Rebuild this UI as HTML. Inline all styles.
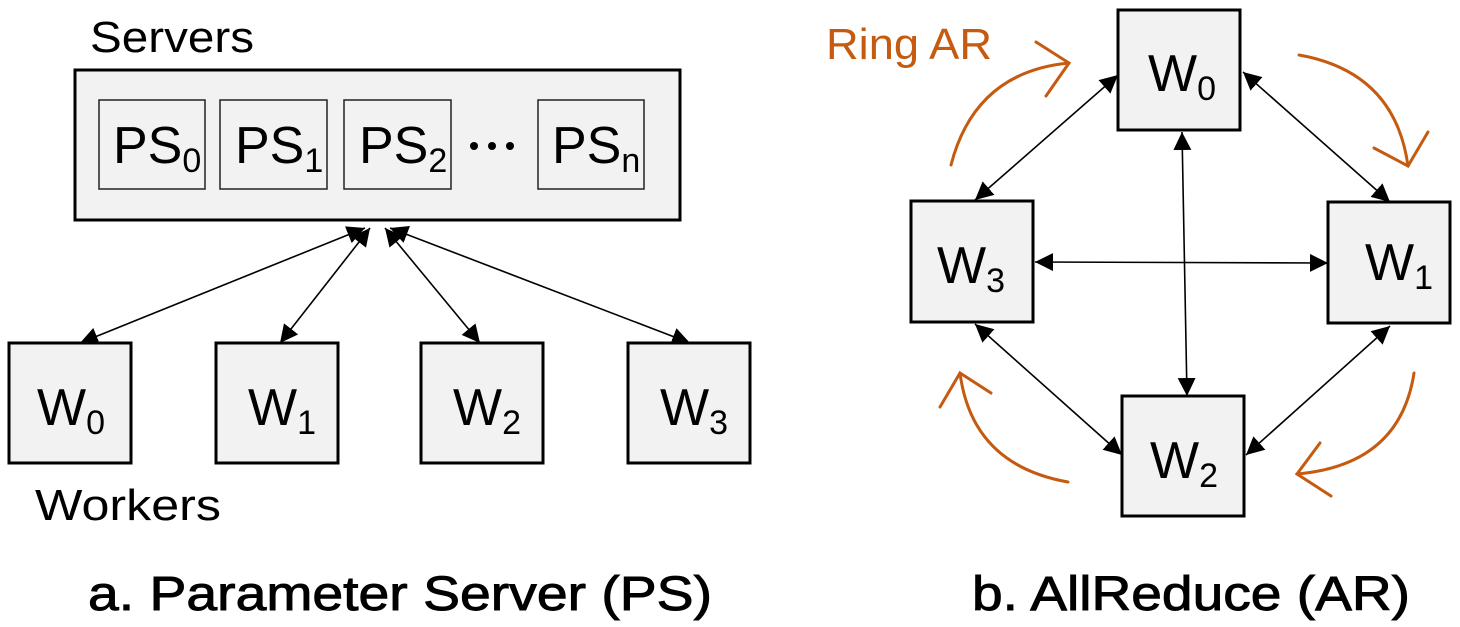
<!DOCTYPE html>
<html><head><meta charset="utf-8"><style>
html,body{margin:0;padding:0;background:#fff;}
svg{display:block;}
text{font-family:"Liberation Sans",sans-serif;fill:#000;}
</style></head><body>
<svg width="1460" height="627" viewBox="0 0 1460 627" xmlns="http://www.w3.org/2000/svg">
<defs>
<marker id="ah" viewBox="0 0 10 10" refX="10" refY="5" markerWidth="18" markerHeight="18" markerUnits="userSpaceOnUse" orient="auto-start-reverse">
<path d="M0,0 L10,5 L0,10 z" fill="#000"/>
</marker>
</defs>

<!-- Left diagram -->
<text x="90" y="52" font-size="44" textLength="164" lengthAdjust="spacingAndGlyphs">Servers</text>
<rect x="75" y="70" width="605" height="150" fill="#f2f2f2" stroke="#000" stroke-width="3"/>
<g fill="#f2f2f2" stroke="#222" stroke-width="1.5">
<rect x="99" y="100" width="106" height="89"/>
<rect x="220" y="100" width="107" height="89"/>
<rect x="344" y="100" width="107" height="89"/>
<rect x="538" y="100" width="106" height="89"/>
</g>
<g font-size="52">
<text x="113" y="163">PS<tspan font-size="34" dy="9">0</tspan></text>
<text x="235" y="163">PS<tspan font-size="34" dy="9">1</tspan></text>
<text x="359" y="163">PS<tspan font-size="34" dy="9">2</tspan></text>
<text x="552" y="163">PS<tspan font-size="34" dy="9">n</tspan></text>
</g>
<g fill="#000"><circle cx="474" cy="146" r="4"/><circle cx="492" cy="146" r="4"/><circle cx="510" cy="146" r="4"/></g>

<g stroke="#000" stroke-width="1.6" fill="none" marker-start="url(#ah)" marker-end="url(#ah)">
<line x1="365" y1="228" x2="80" y2="343"/>
<line x1="370" y1="228" x2="280" y2="343"/>
<line x1="385" y1="228" x2="480" y2="343"/>
<line x1="390" y1="228" x2="690" y2="343"/>
</g>

<g fill="#f2f2f2" stroke="#000" stroke-width="3">
<rect x="9" y="343" width="122" height="120"/>
<rect x="216" y="343" width="122" height="120"/>
<rect x="421" y="343" width="122" height="120"/>
<rect x="628" y="343" width="122" height="120"/>
</g>
<g font-size="52">
<text x="37" y="425">W<tspan font-size="34" dy="9">0</tspan></text>
<text x="248" y="425">W<tspan font-size="34" dy="9">1</tspan></text>
<text x="453" y="425">W<tspan font-size="34" dy="9">2</tspan></text>
<text x="660" y="425">W<tspan font-size="34" dy="9">3</tspan></text>
</g>
<text x="35" y="520" font-size="44" textLength="186" lengthAdjust="spacingAndGlyphs">Workers</text>

<text x="88" y="610" font-size="48" stroke="#000" stroke-width="0.9" textLength="624" lengthAdjust="spacingAndGlyphs">a. Parameter Server (PS)</text>

<!-- Right diagram -->
<text x="826" y="59" font-size="44" style="fill:#c55a11" textLength="166" lengthAdjust="spacingAndGlyphs">Ring AR</text>

<g stroke="#c55a11" stroke-width="3" fill="none" stroke-linecap="round">
<path d="M951,165 Q975,72 1069,63"/>
<path d="M1036,42 L1069,63 L1046,96"/>
<path d="M1299,55 Q1395,72 1408,166"/>
<path d="M1374,148 L1408,166 L1428,132"/>
<path d="M1414,373 Q1400,465 1297,474"/>
<path d="M1320,443 L1297,474 L1331,496"/>
<path d="M1068,482 Q972,465 960,373"/>
<path d="M940,407 L960,373 L991,393"/>
</g>

<g stroke="#000" stroke-width="1.6" fill="none" marker-start="url(#ah)" marker-end="url(#ah)">
<line x1="1118" y1="75" x2="975" y2="200"/>
<line x1="1243" y1="72" x2="1390" y2="202"/>
<line x1="1035" y1="262" x2="1328" y2="263"/>
<line x1="1182" y1="132" x2="1187" y2="396"/>
<line x1="975" y1="324" x2="1122" y2="455"/>
<line x1="1390" y1="326" x2="1246" y2="455"/>
</g>

<g fill="#f2f2f2" stroke="#000" stroke-width="3">
<rect x="1118" y="10" width="122" height="120"/>
<rect x="911" y="201" width="122" height="121"/>
<rect x="1328" y="202" width="122" height="121"/>
<rect x="1122" y="396" width="122" height="120"/>
</g>
<g font-size="52">
<text x="1148" y="91">W<tspan font-size="34" dy="9">0</tspan></text>
<text x="937" y="283">W<tspan font-size="34" dy="9">3</tspan></text>
<text x="1365" y="280">W<tspan font-size="34" dy="9">1</tspan></text>
<text x="1150" y="478">W<tspan font-size="34" dy="9">2</tspan></text>
</g>

<text x="972" y="610" font-size="48" stroke="#000" stroke-width="0.9" textLength="438" lengthAdjust="spacingAndGlyphs">b. AllReduce (AR)</text>
</svg>
</body></html>
